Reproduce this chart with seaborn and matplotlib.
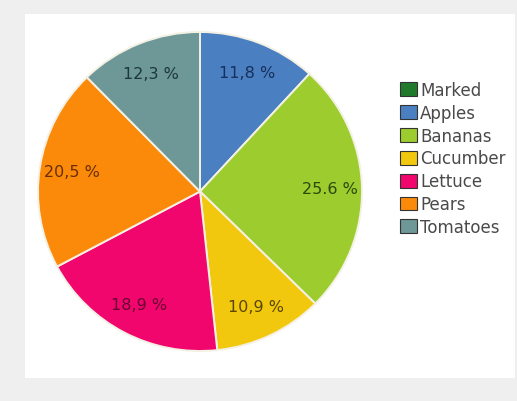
import numpy as np
import matplotlib
matplotlib.use('Agg')
import matplotlib.pyplot as plt
from matplotlib.patches import Patch, Rectangle
import seaborn as sns

# data
categories = ['Apples', 'Bananas', 'Cucumber', 'Lettuce', 'Pears', 'Tomatoes']
shares = [11.8, 25.6, 10.9, 18.9, 20.5, 12.3]
pct_labels = ['11,8 %', '25.6 %', '10,9 %', '18,9 %', '20,5 %', '12,3 %']
legend_names = ['Marked', 'Apples', 'Bananas', 'Cucumber', 'Lettuce', 'Pears', 'Tomatoes']

sns.set_style('white')
plt.rcParams['font.family'] = ['DejaVu Sans']

marked_color = '#1f7a2c'
slice_colors = sns.color_palette(['#4a7fc1', '#9ccc2e', '#f2c80f', '#f0066c', '#fb8a0a', '#6e9797'])
text_colors = ['#17305c', '#2b4a0c', '#5a4600', '#6a0232', '#6a2e00', '#1c3838']

fig = plt.figure(figsize=(5.17, 4.02), dpi=100)
fig.patch.set_facecolor('#efefef')
fig.patches.append(Rectangle((25 / 517, 1 - 379 / 402), 490 / 517, 364 / 402,
                             transform=fig.transFigure, facecolor='white',
                             edgecolor='none', zorder=-1))

# pie is a touch wider than tall in the reference
ax = fig.add_axes([38 / 517, 50 / 402, 324 / 517, 319 / 402])
ax.set_zorder(1)
wedges, texts = ax.pie(shares, colors=slice_colors, startangle=90, counterclock=False,
                       wedgeprops=dict(edgecolor='#f4f1e4', linewidth=1.4))
for w, lab, tc in zip(wedges, pct_labels, text_colors):
    mid = np.deg2rad((w.theta1 + w.theta2) / 2)
    r = 0.8
    ax.text(r * np.cos(mid), r * np.sin(mid), lab, ha='center', va='center',
            fontsize=11.5, color=tc)
ax.set_xlim(-1.0, 1.0)
ax.set_ylim(-1.0, 1.0)
ax.set_aspect('auto')
ax.axis('off')

handles = [Patch(facecolor=c, edgecolor='#333333', linewidth=0.8)
           for c in [marked_color] + list(slice_colors)]
leg = fig.legend(handles, legend_names, loc='upper left', bbox_to_anchor=(400 / 517, 1 - 82 / 402),
                 frameon=False, fontsize=12, handlelength=1.0, handleheight=0.9,
                 handletextpad=0.2, labelspacing=0.29, borderpad=0, borderaxespad=0,
                 labelcolor='#4a4a4a')
leg.set_zorder(2)

plt.savefig('out.png', dpi=100, facecolor=fig.get_facecolor())
